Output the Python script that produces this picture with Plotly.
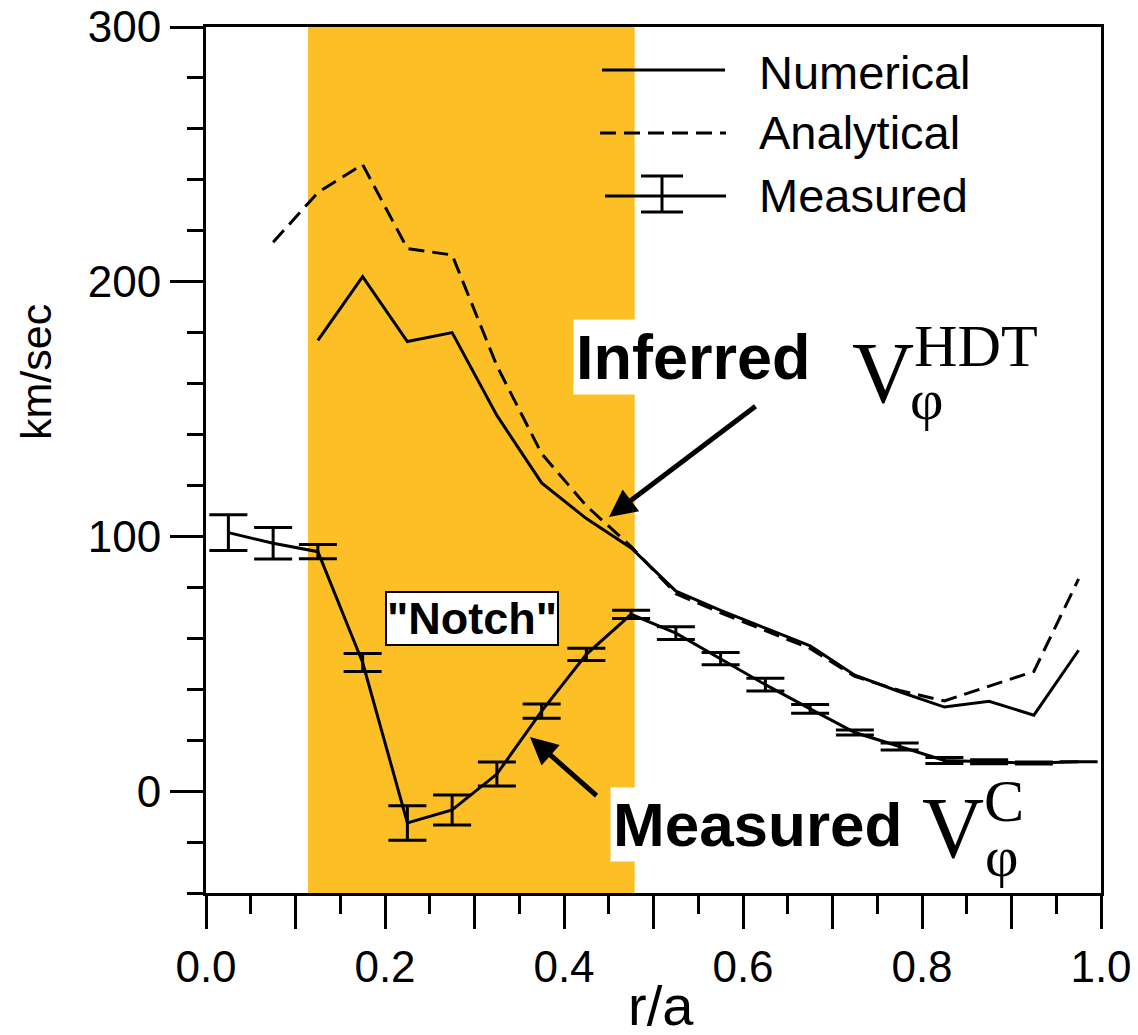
import plotly.graph_objects as go

# ---------------- data ----------------
r_meas = [0.025, 0.075, 0.125, 0.175, 0.225, 0.275, 0.325, 0.375, 0.425, 0.475,
          0.525, 0.575, 0.625, 0.675, 0.725, 0.775, 0.825, 0.875, 0.925, 0.975]
v_meas = [101.5, 97.3, 94.0, 50.5, -12.5, -7.4, 6.7, 31.4, 53.7, 69.4,
          62.0, 52.0, 41.8, 32.3, 23.0, 17.5, 12.0, 11.5, 11.0, 11.5]
v_meas_err = [7.0, 6.2, 2.8, 3.5, 6.8, 5.9, 4.7, 2.8, 2.4, 1.6,
              2.5, 2.4, 2.5, 1.7, 1.0, 1.4, 1.2, 0.8, 0.4, 0.0]

r_num = [0.125, 0.175, 0.225, 0.275, 0.325, 0.375, 0.425, 0.475, 0.525,
         0.575, 0.625, 0.675, 0.725, 0.775, 0.825, 0.875, 0.925, 0.975]
v_num = [177.0, 202.0, 176.5, 180.0, 147.5, 121.0, 107.0, 95.5, 78.5,
         71.0, 64.0, 57.0, 45.5, 39.0, 33.0, 35.3, 29.8, 55.3]

r_ana = [0.075, 0.125, 0.175, 0.225, 0.275, 0.325, 0.375, 0.425, 0.475, 0.525,
         0.575, 0.625, 0.675, 0.725, 0.775, 0.825, 0.875, 0.925, 0.975]
v_ana = [215.5, 235.0, 246.0, 213.0, 210.5, 167.0, 132.5, 112.0, 96.0, 77.5,
         70.0, 63.0, 56.0, 45.0, 39.5, 35.4, 41.2, 47.0, 83.3]

notch_band = [0.114, 0.479]

x_ticks = [0.0, 0.1, 0.2, 0.3, 0.4, 0.5, 0.6, 0.7, 0.8, 0.9, 1.0]
x_ticktext = ["0.0", "", "0.2", "", "0.4", "", "0.6", "", "0.8", "", "1.0"]
y_ticks = [0, 100, 200, 300]
y_range = [-40, 300]

legend_names = ["Numerical", "Analytical", "Measured"]

# ---------------- layout geometry (pixels) ----------------
W, H = 1138, 1035
L, R, T, B = 206, 37, 27, 142
PW, PH = W - L - R, H - T - B


def px(xp):
    return (xp - L) / PW


def py(yp):
    return (H - B - yp) / PH


ORANGE = "#FDBF26"
SANS = "Liberation Sans, Arial, sans-serif"
SERIF = "Liberation Serif, Times New Roman, serif"

fig = go.Figure()

fig.add_trace(go.Scatter(x=r_ana, y=v_ana, mode="lines", name=legend_names[1],
                         line=dict(color="black", width=3, dash="16px,8px")))
fig.add_trace(go.Scatter(x=r_num, y=v_num, mode="lines", name=legend_names[0],
                         line=dict(color="black", width=3)))
fig.add_trace(go.Scatter(x=r_meas, y=v_meas, mode="lines", name=legend_names[2],
                         line=dict(color="black", width=3),
                         error_y=dict(type="data", array=v_meas_err, visible=True,
                                      color="black", thickness=3, width=19)))

shapes = [
    dict(type="rect", xref="x", yref="y domain", x0=notch_band[0], x1=notch_band[1],
         y0=0, y1=1, fillcolor=ORANGE, line=dict(width=0), layer="below"),
    # legend samples
    dict(type="line", xref="paper", yref="paper", x0=px(602), x1=px(725), y0=py(70), y1=py(70),
         line=dict(color="black", width=3)),
    dict(type="line", xref="paper", yref="paper", x0=px(600), x1=px(726), y0=py(133), y1=py(133),
         line=dict(color="black", width=3, dash="16px,8px")),
    dict(type="line", xref="paper", yref="paper", x0=px(605), x1=px(726), y0=py(196), y1=py(196),
         line=dict(color="black", width=3)),
    dict(type="line", xref="paper", yref="paper", x0=px(662), x1=px(662), y0=py(176), y1=py(212),
         line=dict(color="black", width=3)),
    dict(type="line", xref="paper", yref="paper", x0=px(641), x1=px(683), y0=py(176), y1=py(176),
         line=dict(color="black", width=3)),
    dict(type="line", xref="paper", yref="paper", x0=px(641), x1=px(683), y0=py(212), y1=py(212),
         line=dict(color="black", width=3)),
]

ann = []
# legend labels
for name, yp in zip(legend_names, [72, 132, 195]):
    ann.append(dict(text=name, xref="paper", yref="paper", x=px(757), y=py(yp),
                    xanchor="left", yanchor="middle", showarrow=False,
                    font=dict(family=SANS, size=47, color="black")))

# axis titles
ann.append(dict(text="km/sec", xref="paper", yref="paper", x=px(36), y=py(372),
                xanchor="center", yanchor="middle", textangle=-90, showarrow=False,
                font=dict(family=SANS, size=43, color="black")))
ann.append(dict(text="r/a", xref="paper", yref="paper", x=px(661), y=py(1006),
                xanchor="center", yanchor="middle", showarrow=False,
                font=dict(family=SANS, size=56, color="black")))

# Inferred label
ann.append(dict(text="<b>Inferred</b>", xref="paper", yref="paper", x=px(693), y=py(357),
                xanchor="center", yanchor="middle", showarrow=False, bgcolor="white",
                borderpad=2, font=dict(family=SANS, size=63, color="black")))
ann.append(dict(text="V<sup>HDT</sup>", xref="paper", yref="paper", x=px(850), y=py(423),
                xanchor="left", yanchor="bottom", showarrow=False,
                font=dict(family=SERIF, size=86, color="black")))
ann.append(dict(text="φ", xref="paper", yref="paper", x=px(926), y=py(399),
                xanchor="center", yanchor="middle", showarrow=False,
                font=dict(family=SERIF, size=58, color="black")))

# Measured label
ann.append(dict(text="<b>Measured</b>", xref="paper", yref="paper", x=px(757), y=py(824),
                xanchor="center", yanchor="middle", showarrow=False, bgcolor="white",
                borderpad=2, font=dict(family=SANS, size=62, color="black")))
ann.append(dict(text="V<sup>C</sup>", xref="paper", yref="paper", x=px(920), y=py(878),
                xanchor="left", yanchor="bottom", showarrow=False,
                font=dict(family=SERIF, size=86, color="black")))
ann.append(dict(text="φ", xref="paper", yref="paper", x=px(1001), y=py(856),
                xanchor="center", yanchor="middle", showarrow=False,
                font=dict(family=SERIF, size=58, color="black")))

# Notch label
ann.append(dict(text='<b>"Notch"</b>', xref="paper", yref="paper", x=px(472), y=py(618),
                xanchor="center", yanchor="middle", showarrow=False, bgcolor="white",
                bordercolor="black", borderwidth=2, borderpad=0,
                font=dict(family=SANS, size=45, color="black")))

# arrows
ann.append(dict(text="", xref="paper", yref="paper", x=px(609), y=py(517),
                ax=148, ay=-112, showarrow=True, arrowhead=2, arrowsize=1.1,
                arrowwidth=5, arrowcolor="black", standoff=0))
ann.append(dict(text="", xref="paper", yref="paper", x=px(530), y=py(737),
                ax=68, ay=60, showarrow=True, arrowhead=2, arrowsize=1.1,
                arrowwidth=5, arrowcolor="black", standoff=0))

fig.update_layout(
    width=W, height=H,
    margin=dict(l=L, r=R, t=T, b=B, pad=0, autoexpand=False),
    paper_bgcolor="white", plot_bgcolor="white",
    showlegend=False,
    shapes=shapes, annotations=ann,
    font=dict(family=SANS, color="black"),
)
fig.update_xaxes(range=[0, 1], tickmode="array", tickvals=x_ticks, ticktext=x_ticktext,
                 ticks="outside", ticklen=33, tickwidth=3, tickcolor="black",
                 showline=True, linewidth=3, linecolor="black", mirror=True,
                 showgrid=False, zeroline=False, automargin=False,
                 tickfont=dict(family=SANS, size=44, color="black"),
                 minor=dict(dtick=0.05, tick0=0, ticks="outside", ticklen=18,
                            tickwidth=3, tickcolor="black", showgrid=False))
fig.update_yaxes(range=y_range, tickmode="array", tickvals=y_ticks,
                 ticks="outside", ticklen=33, tickwidth=3, tickcolor="black",
                 showline=True, linewidth=3, linecolor="black", mirror=True,
                 showgrid=False, zeroline=False, automargin=False,
                 tickfont=dict(family=SANS, size=44, color="black"),
                 minor=dict(dtick=20, tick0=0, ticks="outside", ticklen=16,
                            tickwidth=3, tickcolor="black", showgrid=False))

fig.write_html("out.html")
